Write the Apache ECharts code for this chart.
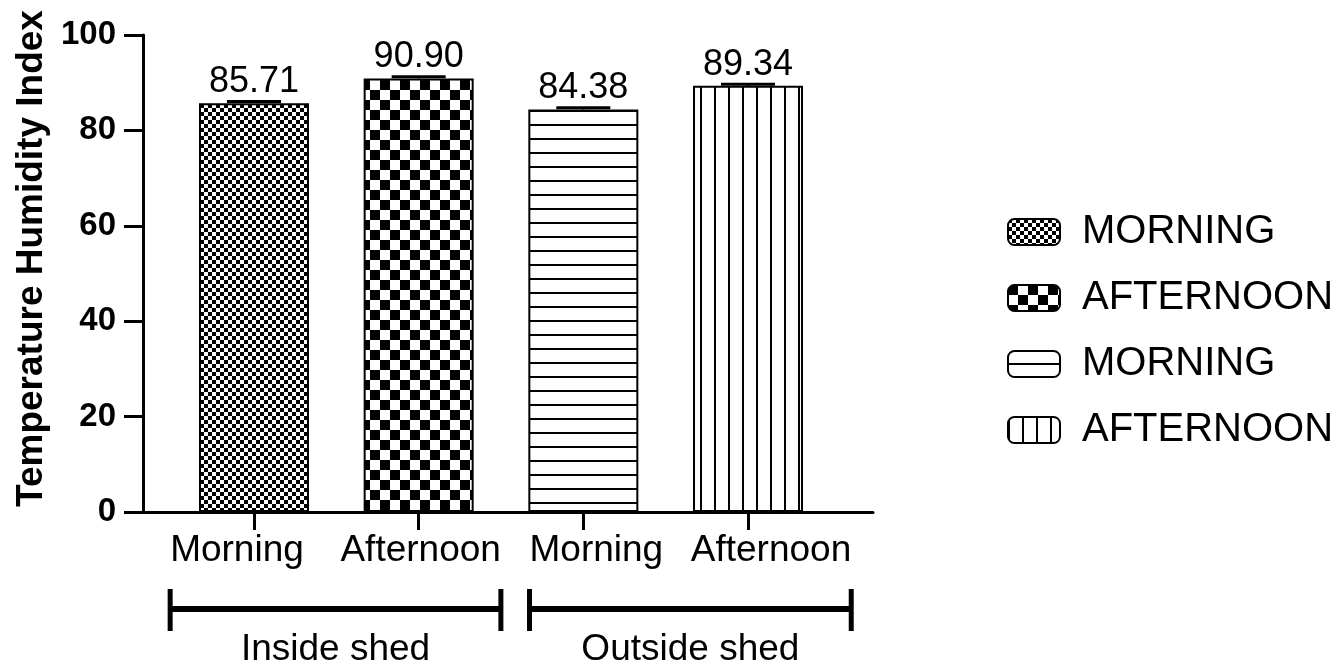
<!DOCTYPE html>
<html><head><meta charset="utf-8">
<script src="https://cdn.jsdelivr.net/npm/echarts@6/dist/echarts.min.js"></script>
<style>html,body{margin:0;padding:0;background:#fff}#c{width:1341px;height:668px}</style>
</head><body><div id="c"></div>
<script>
// ---- data ----
const categories = ['Morning', 'Afternoon', 'Morning', 'Afternoon'];
const legendNames = ['MORNING', 'AFTERNOON', 'MORNING', 'AFTERNOON'];
const values = [85.71, 90.90, 84.38, 89.34];
const errors = [0.35, 0.35, 0.35, 0.35];
const groups = ['Inside shed', 'Outside shed'];
const groupMembers = [[0, 1], [2, 3]];
const positions = [1, 2, 3, 4];

// ---- style ----
const FONT = "'Liberation Sans', Arial, sans-serif";
const labelShift = [-17, 2, 13, 23];

function pat(w, h, draw) {
  const c = document.createElement('canvas');
  c.width = w; c.height = h;
  const g = c.getContext('2d');
  g.fillStyle = '#fff'; g.fillRect(0, 0, w, h);
  g.fillStyle = '#000'; draw(g, w, h);
  return { image: c, repeat: 'repeat' };
}
const patterns = [
  pat(8, 8, g => { g.fillRect(0, 0, 4, 4); g.fillRect(4, 4, 4, 4); }),
  pat(20, 20, g => { g.fillRect(0, 0, 10, 10); g.fillRect(10, 10, 10, 10); }),
  pat(14, 14, g => { g.fillRect(0, 12, 14, 2); }),
  pat(14, 14, g => { g.fillRect(0, 0, 2, 14); })
];

const measureCtx = document.createElement('canvas').getContext('2d');
function textW(t, size) { measureCtx.font = size + "px 'Liberation Sans', Arial, sans-serif"; return measureCtx.measureText(t).width; }

const rich = {};
labelShift.forEach((s, i) => {
  rich['s' + i] = {
    fontSize: 37, fontFamily: FONT, color: '#000',
    padding: s < 0 ? [0, -2 * s, 0, 0] : [0, 0, 0, 2 * s]
  };
});

const chart = echarts.init(document.getElementById('c'));

const barSeries = values.map((v, i) => ({
  type: 'bar',
  name: legendNames[i] + '#' + i,
  data: [[positions[i], v]],
  barWidth: 110,
  barGap: '-100%',
  itemStyle: { color: patterns[i], borderColor: '#000', borderWidth: 2 },
  label: {
    show: true, position: 'top', distance: 3,
    formatter: p => p.value[1].toFixed(2),
    fontSize: 36, fontFamily: FONT, color: '#000'
  },
  z: 2
}));

const errSeries = {
  type: 'custom',
  data: values.map((v, i) => [positions[i], v, errors[i]]),
  encode: { x: 0, y: 1 },
  z: 5,
  clip: false,
  renderItem: (params, api) => {
    const top = api.coord([api.value(0), api.value(1) + api.value(2)]);
    const mid = api.coord([api.value(0), api.value(1)]);
    return {
      type: 'group',
      children: [
        { type: 'line', shape: { x1: top[0] - 27, y1: top[1], x2: top[0] + 27, y2: top[1] }, style: { stroke: '#000', lineWidth: 3 } },
        { type: 'line', shape: { x1: top[0], y1: top[1], x2: mid[0], y2: mid[1] }, style: { stroke: '#000', lineWidth: 2 } }
      ]
    };
  }
};

const groupSeries = {
  type: 'custom',
  data: groupMembers.map(m => [(positions[m[0]] + positions[m[m.length - 1]]) / 2, 0]),
  encode: { x: 0, y: 1 },
  clip: false,
  silent: true,
  renderItem: (params, api) => {
    const m = groupMembers[params.dataIndex];
    const a = m[0], b = m[m.length - 1];
    const pa = api.coord([positions[a], 0]);
    const pb = api.coord([positions[b], 0]);
    const x1 = pa[0] + labelShift[a] - textW(categories[a], 37) / 2;
    const x2 = pb[0] + labelShift[b] + textW(categories[b], 37) / 2;
    const y0 = pa[1];
    const yl = y0 + 97;
    return {
      type: 'group',
      children: [
        { type: 'line', shape: { x1: x1, y1: yl, x2: x2, y2: yl }, style: { stroke: '#000', lineWidth: 6 } },
        { type: 'line', shape: { x1: x1, y1: y0 + 77, x2: x1, y2: y0 + 119 }, style: { stroke: '#000', lineWidth: 5 } },
        { type: 'line', shape: { x1: x2, y1: y0 + 77, x2: x2, y2: y0 + 119 }, style: { stroke: '#000', lineWidth: 5 } },
        { type: 'text', x: (x1 + x2) / 2, y: y0 + 138, style: { text: groups[params.dataIndex], fontSize: 37, fontFamily: FONT, fill: '#000', align: 'center', verticalAlign: 'middle' } }
      ]
    };
  }
};

chart.setOption({
  animation: false,
  backgroundColor: '#fff',
  grid: { left: 143, right: 468, top: 35, bottom: 156 },
  legend: {
    orient: 'vertical', left: 1002, top: 207,
    data: legendNames.map((n, i) => n + '#' + i),
    formatter: n => n.split('#')[0],
    icon: 'roundRect',
    itemWidth: 52, itemHeight: 26, itemGap: 26,
    textStyle: { fontSize: 40, fontFamily: FONT, color: '#000', lineHeight: 40, padding: [0, 0, 0, 17] },
    selectedMode: false
  },
  xAxis: {
    type: 'value', min: 0.326, max: 4.759,
    splitLine: { show: false },
    axisLine: { show: true, onZero: false, lineStyle: { color: '#000', width: 3 } },
    axisTick: { show: true, customValues: positions, length: 18, lineStyle: { color: '#000', width: 3 } },
    axisLabel: {
      customValues: positions, margin: 20, fontSize: 37, fontFamily: FONT, color: '#000',
      formatter: v => { const i = positions.indexOf(Math.round(v)); return '{s' + i + '|' + categories[i] + '}'; },
      rich: rich
    }
  },
  yAxis: {
    type: 'value', min: 0, max: 100, interval: 20,
    splitLine: { show: false },
    axisLine: { show: true, lineStyle: { color: '#000', width: 3 } },
    axisTick: { show: true, length: 19, lineStyle: { color: '#000', width: 3 } },
    axisLabel: { fontSize: 33, fontWeight: 'bold', fontFamily: FONT, color: '#000', margin: 27 },
    name: 'Temperature Humidity Index', nameLocation: 'middle', nameGap: 84,
    nameTextStyle: { fontSize: 37, fontWeight: 'bold', fontFamily: FONT, color: '#000', padding: [0, 0, 0, 30] }
  },
  series: barSeries.concat([errSeries, groupSeries])
});
</script>
</body></html>
